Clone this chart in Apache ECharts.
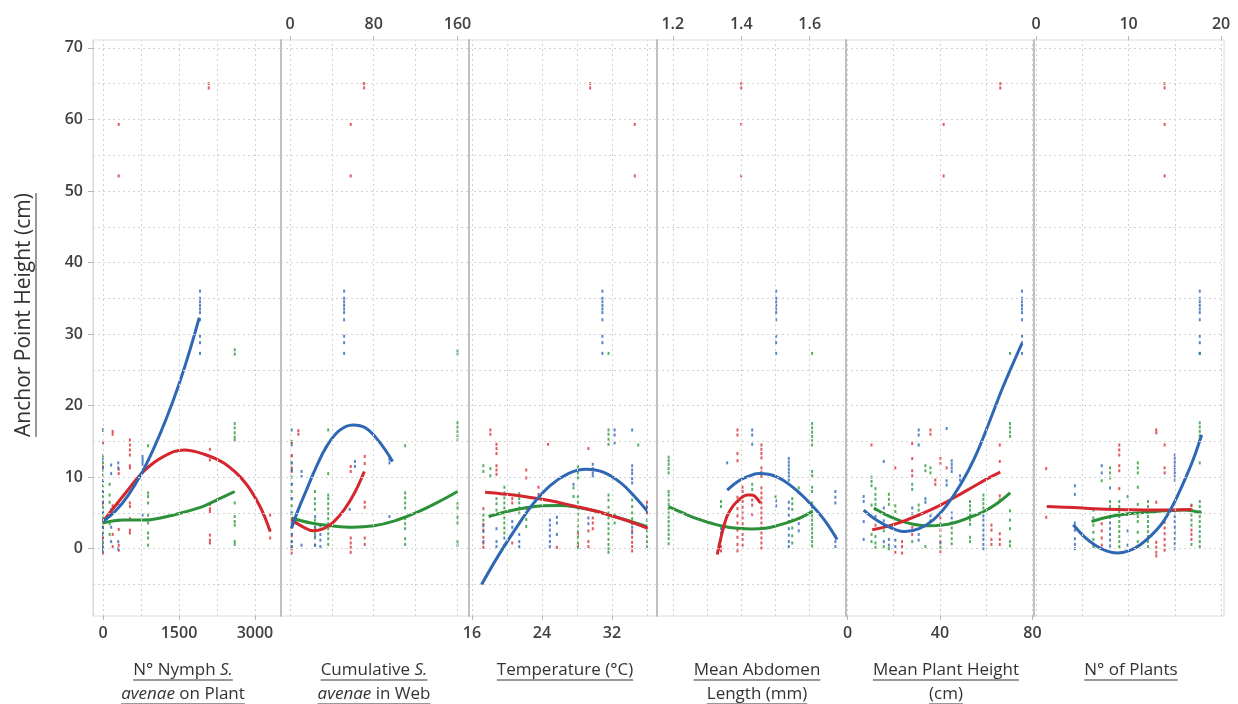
<!DOCTYPE html>
<html><head><meta charset="utf-8">
<script src="https://cdn.jsdelivr.net/npm/echarts@6/dist/echarts.min.js"></script>
<style>html,body{margin:0;padding:0;background:#fff}#c{width:1238px;height:704px}</style>
</head><body><div id="c"></div>
<script>
// ---------------- DATA ----------------
const yRange = [-9.4, 71.1];
const yLabels = [0, 10, 20, 30, 40, 50, 60, 70];
const yGrid = [-5, 0, 5, 10, 15, 20, 25, 30, 35, 40, 45, 50, 55, 60, 65, 70];

// Panel 1: N° Nymph S. avenae on Plant
const p1Range = [-198, 3514];
const p1Labels = [0, 1500, 3000];
const p1Grid = [0, 750, 1500, 2250, 3000];
const p1Blue = [
  [0, [16.6, 12.5, 11.3, 9.5, 8, 6.5, 5, 4, 3, 2, 1.2, 0.5, 0, -0.3]],
  [160, [11.7, 10.5, 5.5, 3.0, 1.0]],
  [300, [12.0, 11.3, 6.3, 4.0, 1.0, 0]],
  [780, [12.9, 12.5, 12.2, 11.8, 4.7]],
  [1915, [36, 35, 34.5, 34, 33.5, 33, 32, 29.7, 28.8, 27.3]]
];
const p1Red = [
  [0, [14.8, 11.5, 6.3, 3.0, 1.5, 0.5, -0.6]],
  [190, [16.4, 16.0, 6.0, 2.0, 0.3]],
  [310, [59.3, 52.1, 10.5, 11.1, 2.7, 0.5, -0.2]],
  [530, [15.2, 14.5, 13.8, 13.1, 11.6, 11.3, 6.4, 5.9, 4.2, 2.6, 2.2]],
  [2087, [65.0, 64.4]],
  [2110, [13.9, 12.4, 6.2, 5.6, 5.2, 1.9, 1.2, 0.8]],
  [3300, [4.7, 2.6, 1.5]]
];
const p1Green = [
  [0, [16.6, 13, 12, 11, 10.3, 9.5, 8.8, 8, 7.3, 6.5, 5.8, 5, 4.3, 3.6, 3, 2.2, 1.5, 0.8, 0.2]],
  [130, [9.0, 7.5, 6.5, 5.0, 3.5, 2.0]],
  [890, [14.4, 7.8, 7.3, 6.4, 4.7, 3.6, 2.2, 1.5, 0.5]],
  [2600, [27.8, 27.2, 17.5, 16.9, 16.2, 15.6, 15.2, 6.4, 4.5, 3.8, 3.3, 1.0, 0.6]]
];
const p1BlueFit = [[0, 3.8], [250, 5.3], [500, 7.5], [750, 10.4], [1000, 14.0], [1250, 18.2], [1500, 23.0], [1700, 27.4], [1900, 32.3]];
const p1RedFit = [[0, 3.8], [400, 7.4], [800, 10.8], [1200, 12.9], [1600, 13.8], [2000, 13.2], [2400, 11.9], [2800, 9.3], [3100, 5.9], [3300, 2.4]];
const p1GreenFit = [[0, 3.6], [400, 4.0], [800, 4.0], [1200, 4.4], [1600, 5.1], [2000, 6.0], [2300, 7.0], [2600, 8.0]];

// Panel 2: Cumulative S. avenae in Web
const p2Range = [-8.6, 171];
const p2Labels = [0, 80, 160];
const p2Grid = [0, 40, 80, 120, 160];
const p2Blue = [
  [1.6, [16.6, 14.5, 12, 11, 9, 7, 5, 3.5, 2, 1, 0.3]],
  [11, [10.8, 10.1, 0.5]],
  [24, [4.5, 3, 1.8, 0.5]],
  [29, [3.2, 2.0, 1.2, 0.3]],
  [51.7, [36, 35, 34.5, 34, 33.5, 33, 32, 29.7, 28.8, 27.3]],
  [57, [5.5]],
  [62, [12.2, 11.5]],
  [95, [12.5, 12.0, 4.5]]
];
const p2Red = [
  [1.6, [14.8, 13, 11.3, 10.8, 4.2, 3, 1.8, 0, -0.6]],
  [8, [16.5, 16.0]],
  [58, [59.3, 52.1, 11.5, 10.8, 1.5, 0.8, 0.2, -0.5]],
  [70.8, [65.0, 64.4]],
  [71.4, [12.9, 11.9, 6.5, 5.8, 1.5, 0.6]]
];
const p2Green = [
  [1.6, [15, 13, 12, 11, 10, 9, 8, 7, 6, 5, 4, 3, 2, 1, 0.3]],
  [23.8, [8.0, 7.0, 6.3, 5.5, 4.0, 3.0, 2.2, 1.5, 0.5]],
  [36.5, [16.6, 10.5, 7.5, 7, 6.3, 5.6, 4.9, 4.2, 3.5, 2.8, 2.1, 1.4, 0.6]],
  [110, [14.4, 7.8, 7.1, 6.4, 5.7, 4.2, 3.5, 2.8, 1.4, 0.6]],
  [160, [27.7, 27.2, 17.6, 17.0, 16.4, 15.8, 15.2, 6.3, 5.7, 4.4, 3.6, 1.0, 0.5]]
];
const p2BlueFit = [[1.5, 2.9], [8, 5.5], [16, 8.3], [25, 11.4], [35, 14.3], [47, 16.5], [60, 17.3], [72, 16.9], [85, 15.0], [98, 12.2]];
const p2RedFit = [[1.5, 4.0], [12, 3.1], [22, 2.5], [32, 2.8], [42, 3.8], [52, 5.5], [62, 7.9], [71, 10.8]];
const p2GreenFit = [[1.5, 4.3], [20, 3.6], [40, 3.2], [60, 3.0], [80, 3.2], [100, 3.9], [120, 5.0], [140, 6.4], [160, 8.0]];

// Panel 3: Temperature (°C)
const p3Range = [15.66, 37.14];
const p3Labels = [16, 24, 32];
const p3Grid = [16, 20, 24, 28, 32, 36];
const p3Blue = [
  [17.3, [3.2, 2.4, 1.0]],
  [18.8, [2.8, 1.0, 0.3]],
  [19.7, [1.5, 0.5]],
  [20.6, [3.8, 3.0]],
  [21.4, [2.0, 1.0, 0.3]],
  [24.9, [4.0, 3.3, 2.6, 1.8, 1.0, 0.3]],
  [25.7, [4.4, 3.6, 2.0]],
  [27.6, [9.0]],
  [29.3, [4.3, 3.5]],
  [29.8, [11.8, 11.2, 10.6, 10.2]],
  [30.9, [36, 35, 34.5, 34, 33.5, 33, 32, 29.7, 28.8, 27.3]],
  [32.3, [16.6, 15.9, 14.8]],
  [34.3, [16.6, 11.6, 11.0, 10.5, 9.8, 9.2, 3.0, 2.2]],
  [36.0, [6.0, 5.2]]
];
const p3Red = [
  [17.3, [5.6, 3.4, 2.6, 1.6, 0.8, 0.2]],
  [18.1, [16.6, 16.0]],
  [18.8, [14.6, 14.0, 13.3, 11.6, 11.0, 10.4]],
  [20.6, [7.0, 6.4, 0.8]],
  [22.2, [11.0, 9.9, 5.7]],
  [23.6, [8.6, 7.6]],
  [24.7, [14.6]],
  [25.7, [0.2]],
  [28.1, [2.0, 0.5]],
  [29.3, [14.0, 2.5, 1.0, 0.3]],
  [29.5, [65.0, 64.4]],
  [29.8, [4.3, 3.6, 2.8]],
  [34.3, [2.5, 1.6, 0.9, 0.3, -0.3]],
  [34.6, [59.3, 52.1]],
  [36.0, [6.5, 5.8, 5.0, 2.9]]
];
const p3Green = [
  [17.3, [11.6, 10.8, 4.7, 4.0]],
  [18.1, [11.2, 10.2]],
  [18.8, [7.0, 6.3, 5.4]],
  [19.7, [8.6, 7.8, 7.1, 6.4, 5.7, 5.0, 4.3, 3.6, 2.9, 2.2]],
  [21.4, [7.7, 7.0, 6.4, 5.7, 5.0]],
  [22.2, [4.1, 3.1]],
  [27.6, [8.5, 7.3]],
  [28.1, [11.5, 10.6, 9.9, 7.3, 6.5, 5.6, 4.8, 4.0, 3.2, 2.4, 1.6, 0.8, 0.2]],
  [31.6, [27.3, 16.6, 16.0, 15.3, 14.6, 7.5, 6.8, 5.8, 5.0, 4.3, 3.5, 2.8, 2.1, 1.3, 0.6, 0.0, -0.5]],
  [32.3, [4.8, 3.6]],
  [34.3, [6.8, 5.9, 5.0, 4.2, 3.5]],
  [35.0, [14.5]],
  [36.0, [4.0, 3.2, 2.5, 1.7, 1.0, 0.3]]
];
const p3BlueFit = [[17.1, -5.0], [19, -1.0], [21, 2.8], [23, 6.3], [25, 8.9], [27, 10.5], [29, 11.1], [31, 10.7], [33, 9.2], [34.5, 7.4], [36, 5.3]];
const p3RedFit = [[17.5, 7.9], [20, 7.6], [22.5, 7.2], [25, 6.7], [27.5, 6.0], [30, 5.3], [32.5, 4.4], [34.5, 3.6], [36, 2.9]];
const p3GreenFit = [[17.9, 4.5], [20, 5.2], [22, 5.7], [24, 6.0], [26, 6.05], [28, 5.8], [30, 5.3], [32, 4.6], [34, 3.9], [36, 3.1]];

// Panel 4: Mean Abdomen Length (mm)
const p4Range = [1.154, 1.706];
const p4Labels = [1.2, 1.4, 1.6];
const p4Grid = [1.2, 1.3, 1.4, 1.5, 1.6];
const p4Blue = [
  [1.341, [2.8, 2.2]],
  [1.359, [12.0]],
  [1.432, [16.6, 15.9, 14.6]],
  [1.502, [36, 35, 34.5, 34, 33.5, 33, 32, 29.7, 28.8, 27.3, 6.7, 6.0]],
  [1.539, [12.6, 12.1, 11.6, 11.1, 10.6, 10.1, 9.6, 6.5, 5.6, 4.7, 3.8, 2.8, 1.9, 1.0, 0.3]],
  [1.568, [3.5, 2.5]],
  [1.675, [8.0, 7.2, 6.4, 1.8, 1.0, 0.3]]
];
const p4Red = [
  [1.341, [1.2, 0.3, -0.3]],
  [1.389, [16.6, 15.9, 13.3, 12.3, 7.2, 6.6, 5.6, 4.6, 3.6, 2.6, 1.6, 0.6, -0.3]],
  [1.40, [65.0, 64.4, 59.3, 52.1]],
  [1.404, [8.6, 8.0, 7.3, 6.6, 5.8, 5.0, 4.3, 3.5, 2.8, 2.0, 1.3, 0.5]],
  [1.432, [6.8, 6.1, 4.8]],
  [1.459, [14.5, 13.9, 13.3, 12.7, 11.3, 10.7, 10.1, 8.5, 7.8, 7.1, 6.4, 5.7, 5.0, 4.3, 3.6, 2.9, 2.2, 1.5, 0.8, 0.1]]
];
const p4Green = [
  [1.188, [12.8, 12.3, 11.8, 11.2, 10.6, 8.0, 7.5, 6.8, 6.2, 5.6, 5.0, 4.4, 3.8, 3.2, 2.6, 2.0, 1.4, 0.7]],
  [1.341, [6.6, 5.9]],
  [1.432, [9.0, 8.3]],
  [1.50, [7.3]],
  [1.549, [7.0, 6.3, 5.5, 4.0, 2.9, 1.8, 0.8]],
  [1.568, [8.5, 7.8]],
  [1.607, [27.3, 17.5, 16.9, 16.3, 15.7, 15.1, 14.5, 10.8, 10.2, 8.6, 8.0, 6.4, 5.8, 5.2, 4.6, 4.0, 3.4, 2.8, 2.2, 1.6, 1.0, 0.4]]
];
const p4BlueFit = [[1.359, 8.2], [1.39, 9.4], [1.42, 10.1], [1.45, 10.5], [1.48, 10.4], [1.51, 9.9], [1.54, 9.0], [1.57, 7.8], [1.60, 6.4], [1.63, 4.8], [1.655, 3.2], [1.68, 1.3]];
const p4RedFit = [[1.330, -0.8], [1.338, 1.0], [1.349, 3.1], [1.36, 4.7], [1.378, 6.1], [1.40, 7.1], [1.417, 7.5], [1.43, 7.5], [1.441, 7.3], [1.456, 6.4]];
const p4GreenFit = [[1.188, 5.9], [1.23, 5.0], [1.27, 4.2], [1.31, 3.6], [1.35, 3.1], [1.39, 2.85], [1.43, 2.75], [1.47, 2.85], [1.51, 3.3], [1.55, 3.9], [1.58, 4.5], [1.607, 5.2]];

// Panel 5: Mean Plant Height (cm)
const p5Range = [-0.65, 80.7];
const p5Labels = [0, 40, 80];
const p5Grid = [0, 20, 40, 60, 80];
const p5Blue = [
  [7.0, [7.3, 6.6, 3.8, 1.3]],
  [12.1, [4.5]],
  [15.7, [12.2, 5.7, 3.9, 1.0]],
  [17.9, [1.3, 0.5]],
  [20.7, [1.2, 0.3]],
  [28.0, [5.7, 4.9]],
  [30.8, [16.6, 15.9, 14.5, 2.0, 1.2]],
  [33.7, [7.0, 6.5]],
  [35.9, [4.6, 3.9]],
  [40.2, [0.8]],
  [42.9, [16.8, 9.5, 8.9]],
  [45.1, [12.3, 11.8, 11.3, 10.8, 5.0, 4.3, 3.6]],
  [48.7, [10.2, 9.6]],
  [58.8, [4.6, 4.0, 3.3, 2.6, 1.9, 1.3, 0.6, 0.0]],
  [75.5, [36, 35, 34.5, 34, 33.5, 33, 32, 29.7, 28.8, 27.3]]
];
const p5Red = [
  [10.4, [14.5]],
  [12.1, [3.3]],
  [20.7, [11.3, -0.5]],
  [23.6, [1.0, 0.3, -0.6]],
  [28.0, [14.7, 12.6, 10.9, 10.2, 3.0, 2.0]],
  [33.7, [3.2]],
  [35.9, [16.6, 16.0]],
  [38.0, [9.6, 9.0]],
  [40.2, [12.6, 11.9, 4.3, 2.6, 1.0, -0.4]],
  [41.6, [59.3, 52.1]],
  [42.9, [11.3]],
  [62.3, [3.3, 2.6, 1.3, 0.6]],
  [65.9, [14.5, 12.2, 7.4, 6.8, 2.1, 1.3, 0.6]],
  [66.1, [65.0, 64.4]]
];
const p5Green = [
  [10.4, [10.0, 9.4, 8.8, 6.1, 2.0, 1.0]],
  [12.1, [8.4, 7.6, 6.9, 6.2, 5.5, 1.7, 0.8, 0.2]],
  [15.7, [4.9, 2.5, 0.3]],
  [17.9, [7.6, 6.9, 6.2, 0.0]],
  [20.7, [6.0, 5.2]],
  [28.0, [9.0, 8.3, 1.0]],
  [30.8, [6.1, 5.4, 4.7]],
  [33.7, [11.6, 10.9, 0.3]],
  [35.9, [11.3, 10.6]],
  [40.2, [3.5, 1.8, 0.2]],
  [45.1, [2.9, 2.2, 1.4, 0.7]],
  [53.0, [6.6, 6.0, 5.4, 4.7, 4.0, 3.4, 1.6, 1.0]],
  [58.8, [7.5, 6.9, 6.3, 5.7]],
  [70.3, [27.3, 17.5, 16.9, 16.3, 15.7, 5.3, 4.0, 2.8, 1.0, 0.4]]
];
const p5BlueFit = [[7, 5.4], [13, 3.9], [19, 2.9], [25, 2.4], [31, 2.8], [37, 4.0], [43, 6.1], [49, 9.0], [55, 12.7], [61, 17.4], [67, 22.4], [73, 26.9], [75.5, 28.7]];
const p5RedFit = [[10.7, 2.65], [18, 3.2], [25.8, 4.05], [33, 5.0], [40.2, 6.1], [47, 7.3], [54.6, 8.7], [60, 9.7], [66.1, 10.7]];
const p5GreenFit = [[11.4, 5.7], [17, 4.7], [23, 3.9], [29, 3.4], [35, 3.2], [41, 3.3], [47, 3.7], [53, 4.4], [59, 5.2], [65, 6.4], [70.4, 7.8]];

// Panel 6: N° of Plants
const p6Range = [-0.22, 20.32];
const p6Labels = [0, 10, 20];
const p6Grid = [0, 5, 10, 15, 20];
const p6Blue = [
  [4.2, [8.8, 7.6, 3.6, 2.6, 1.4, 0.6, 0.0]],
  [7.1, [11.6, 10.6]],
  [8.0, [8.5, 4.4, 3.6, 2.8, 2.0, 1.2, 0.4]],
  [9.9, [4.8, 2.5, 0.5]],
  [15.0, [13.1, 12.6, 12.1, 11.6, 11.1, 10.6, 10.1, 9.6, 5.3, 4.5, 3.8, 3.0, 2.2, 1.4, 0.7, 0.0]],
  [17.7, [36, 35, 34.5, 34, 33.5, 33, 32, 29.7, 28.8, 27.3]]
];
const p6Red = [
  [1.1, [11.2, 4.4]],
  [7.1, [3.5, 2.5, 1.5, 0.5]],
  [9.0, [14.5, 13.8, 13.1, 11.6, 10.9, 8.4]],
  [13.0, [16.6, 16.2, 6.5, 0.9, 0.2, -0.5, -1.0]],
  [13.9, [65.0, 64.4, 59.3, 52.1, 14.5, 11.3, 10.6, 3.7, 2.9, 2.1, 1.3, 0.5, -0.2]],
  [16.8, [6.0, 5.4, 2.6, 2.0, 1.3]]
];
const p6Green = [
  [6.2, [5.4, 4.3, 3.3, 2.3, 1.3, 0.3]],
  [7.1, [9.5]],
  [8.0, [11.3, 10.6, 9.9, 6.6, 5.9]],
  [9.0, [6.6, 5.9, 5.2, 4.5, 3.8, 3.1, 2.4, 1.7, 1.0, 0.3]],
  [9.9, [7.3]],
  [11.0, [12.0, 11.3, 10.6, 8.6, 6.2, 4.5, 3.8, 2.3, 1.0, 0.3]],
  [12.1, [6.6, 5.9, 5.2, 4.5, 3.8, 3.1, 2.4, 1.7, 1.0, 0.3]],
  [16.8, [6.1, 5.4, 4.7, 4.0, 3.3, 0.6]],
  [17.7, [27.3, 17.6, 17.0, 16.4, 15.8, 15.2, 12.0, 6.6, 5.9, 5.2, 4.5, 3.8, 3.1, 2.4, 1.7, 1.0, 0.3]]
];
const p6BlueFit = [[4.03, 3.35], [5.2, 1.7], [6.4, 0.5], [7.6, -0.3], [8.8, -0.6], [10, -0.3], [11.2, 0.5], [12.4, 1.8], [13.6, 3.5], [14.8, 6.1], [16, 9.4], [17, 12.5], [17.9, 15.9]];
const p6RedFit = [[1.16, 5.9], [4, 5.75], [7, 5.55], [10, 5.45], [13, 5.4], [16.8, 5.5]];
const p6GreenFit = [[6, 3.8], [8, 4.5], [10, 4.9], [12, 5.1], [14, 5.3], [16, 5.4], [17.9, 5.0]];

// Titles (text only)
const yTitle = 'Anchor Point Height (cm)';
const p1Title = [[['N° Nymph ', 'n'], ['S.', 'i']], [['avenae', 'i'], [' on Plant', 'n']]];
const p2Title = [[['Cumulative ', 'n'], ['S.', 'i']], [['avenae', 'i'], [' in Web', 'n']]];
const p3Title = [[['Temperature (°C)', 'n']]];
const p4Title = [[['Mean Abdomen', 'n']], [['Length (mm)', 'n']]];
const p5Title = [[['Mean Plant Height', 'n']], [['(cm)', 'n']]];
const p6Title = [[['N° of Plants', 'n']]];

// ---------------- LAYOUT / STYLE ----------------
const FONT = '"Open Sans", "DejaVu Sans", sans-serif';
const gridLefts = [93, 281, 469, 657, 846, 1034];
const gridWidths = [188, 188, 188, 189, 188, 190];
const gridTop = 40, gridHeight = 576;
const titleCenters = [183, 374, 565, 757, 946, 1131];
const C = {
  blueDot: '#3b6fbf', redDot: '#dc3a40', greenDot: '#38a046',
  blueLine: '#2e67b3', redLine: '#d5262d', greenLine: '#2b9038'
};

const panels = [
  { range: p1Range, labels: p1Labels, grid: p1Grid, pos: 'bottom', blue: p1Blue, red: p1Red, green: p1Green, bf: p1BlueFit, rf: p1RedFit, gf: p1GreenFit, title: p1Title },
  { range: p2Range, labels: p2Labels, grid: p2Grid, pos: 'top', blue: p2Blue, red: p2Red, green: p2Green, bf: p2BlueFit, rf: p2RedFit, gf: p2GreenFit, title: p2Title },
  { range: p3Range, labels: p3Labels, grid: p3Grid, pos: 'bottom', blue: p3Blue, red: p3Red, green: p3Green, bf: p3BlueFit, rf: p3RedFit, gf: p3GreenFit, title: p3Title },
  { range: p4Range, labels: p4Labels, grid: p4Grid, pos: 'top', blue: p4Blue, red: p4Red, green: p4Green, bf: p4BlueFit, rf: p4RedFit, gf: p4GreenFit, title: p4Title },
  { range: p5Range, labels: p5Labels, grid: p5Grid, pos: 'bottom', blue: p5Blue, red: p5Red, green: p5Green, bf: p5BlueFit, rf: p5RedFit, gf: p5GreenFit, title: p5Title },
  { range: p6Range, labels: p6Labels, grid: p6Grid, pos: 'top', blue: p6Blue, red: p6Red, green: p6Green, bf: p6BlueFit, rf: p6RedFit, gf: p6GreenFit, title: p6Title }
];

function expand(cols) {
  const out = [];
  cols.forEach(([x, ys]) => ys.forEach(y => out.push([x, y])));
  return out;
}
const plain = v => String(v);

const grids = [], xAxes = [], yAxes = [], series = [];
panels.forEach((p, i) => {
  grids.push({ left: gridLefts[i], width: gridWidths[i], top: gridTop, height: gridHeight,
    show: true, borderColor: '#dcdcdc', borderWidth: 1, backgroundColor: 'transparent' });
  xAxes.push({
    type: 'value', gridIndex: i, position: p.pos, min: p.range[0], max: p.range[1],
    axisLine: { show: false, onZero: false },
    splitLine: { show: false },
    axisTick: { show: true, customValues: p.labels, length: 4, lineStyle: { color: '#b5b5b5' } },
    axisLabel: { show: true, customValues: p.labels, formatter: plain, margin: p.pos === 'top' ? 8 : 9,
      fontSize: 16, fontWeight: 600, color: '#404040', fontFamily: FONT }
  });
  yAxes.push({
    type: 'value', gridIndex: i, min: yRange[0], max: yRange[1],
    axisLine: { show: true, onZero: false, lineStyle: i === 0 ? { color: '#d8d8d8', width: 1 } : { color: '#c0c0c0', width: 2 } },
    splitLine: { show: false },
    axisTick: i === 0 ? { show: true, customValues: yLabels, length: 5, lineStyle: { color: '#b5b5b5' } } : { show: false },
    axisLabel: i === 0 ? { show: true, customValues: yLabels, formatter: plain, margin: 10, fontSize: 16, fontWeight: 600,
      color: '#404040', fontFamily: FONT } : { show: false }
  });
  // dotted grid lines
  series.push({
    type: 'line', xAxisIndex: i, yAxisIndex: i, data: [], silent: true, z: 1,
    markLine: {
      silent: true, symbol: ['none', 'none'], label: { show: false }, animation: false,
      lineStyle: { color: '#d2d2d2', type: [2, 3], width: 1 },
      emphasis: { disabled: true },
      data: p.grid.map(v => ({ xAxis: v })).concat(yGrid.map(v => ({ yAxis: v })))
    }
  });
  [['green', C.greenDot], ['red', C.redDot], ['blue', C.blueDot]].forEach(([k, col]) => {
    series.push({
      type: 'scatter', xAxisIndex: i, yAxisIndex: i, data: expand(p[k]), z: 2,
      symbol: 'rect', symbolSize: [2, 3], itemStyle: { color: col, opacity: 0.85 }, silent: true
    });
  });
  [['gf', C.greenLine], ['rf', C.redLine], ['bf', C.blueLine]].forEach(([k, col]) => {
    series.push({
      type: 'line', xAxisIndex: i, yAxisIndex: i, data: p[k], z: 3, smooth: 0.4,
      showSymbol: false, symbol: 'none', silent: true,
      lineStyle: { color: col, width: 3 }
    });
  });
});

// ---------------- TITLES ----------------
const mctx = document.createElement('canvas').getContext('2d');
function measureSegs(segs, size) {
  let w = 0;
  segs.forEach(([t, s]) => {
    mctx.font = (s === 'i' ? 'italic ' : '') + size + 'px ' + FONT;
    w += mctx.measureText(t).width;
  });
  return w;
}
const TS = 17;
const graphics = [];
panels.forEach((p, i) => {
  p.title.forEach((segs, li) => {
    const cy = 670 + li * 24;
    const text = segs.map(([t, s]) => '{' + s + '|' + t + '}').join('');
    graphics.push({
      type: 'text', x: titleCenters[i], y: cy, silent: true,
      style: { text: text, textAlign: 'center', textVerticalAlign: 'middle', fill: '#333',
        font: TS + 'px ' + FONT,
        rich: { n: { fontSize: TS, fontFamily: FONT, fill: '#333' },
                i: { fontSize: TS, fontFamily: FONT, fontStyle: 'italic', fill: '#333' } } }
    });
    const w = measureSegs(segs, TS);
    const uy = cy + 10;
    graphics.push({ type: 'line', silent: true,
      shape: { x1: titleCenters[i] - w / 2, y1: uy, x2: titleCenters[i] + w / 2, y2: uy },
      style: { stroke: '#333', lineWidth: 1 } });
  });
});
const YTS = 21;
mctx.font = YTS + 'px ' + FONT;
const yw = mctx.measureText(yTitle).width;
graphics.push({ type: 'text', x: 24, y: 315, rotation: Math.PI / 2, silent: true,
  style: { text: yTitle, textAlign: 'center', textVerticalAlign: 'middle', fill: '#333', font: YTS + 'px ' + FONT } });
graphics.push({ type: 'line', silent: true,
  shape: { x1: 36, y1: 315 - yw / 2, x2: 36, y2: 315 + yw / 2 },
  style: { stroke: '#333', lineWidth: 1 } });

const chart = echarts.init(document.getElementById('c'), null, { renderer: 'canvas' });
chart.setOption({
  backgroundColor: '#ffffff',
  animation: false,
  grid: grids, xAxis: xAxes, yAxis: yAxes, series: series,
  graphic: graphics
});
</script></body></html>
